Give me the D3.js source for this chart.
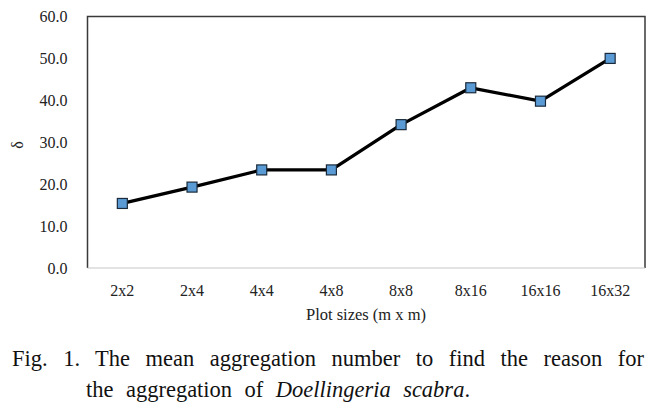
<!DOCTYPE html>
<html>
<head>
<meta charset="utf-8">
<script src="https://cdn.jsdelivr.net/npm/d3@7"></script>
<style>
  body { margin: 0; background: #fff; }
  svg text { font-family: "Liberation Serif", "Times New Roman", serif; fill: #222; }
  svg text.caption { fill: #111; }
</style>
</head>
<body>
<div id="chart"></div>
<script>
// Plot sizes and mean aggregation number
const plotSizes = ["2x2", "2x4", "4x4", "4x8", "8x8", "8x16", "16x16", "16x32"];
const deltaValues = [15.4, 19.3, 23.4, 23.4, 34.2, 43.0, 39.8, 50.0];
const yTicks = [0, 10, 20, 30, 40, 50, 60];

const W = 665, H = 408;
const margin = { left: 87.5, right: 20, top: 16.5, bottom: 140 };
const width = 645 - margin.left;
const height = 268 - margin.top;

const svg = d3.select("#chart").append("svg")
    .attr("width", W)
    .attr("height", H);

const g = svg.append("g")
    .attr("transform", `translate(${margin.left},${margin.top})`);

const x = d3.scaleBand()
    .domain(plotSizes)
    .range([0, width]);

const y = d3.scaleLinear()
    .domain([0, 60])
    .range([height, 0]);

// frame (left, top, right)
g.append("path")
    .attr("d", `M0,${height}V0H${width}V${height}`)
    .attr("fill", "none")
    .attr("stroke", "#3a3a3a")
    .attr("stroke-width", 1.5);

// x axis line
g.append("line")
    .attr("x1", 0).attr("x2", width)
    .attr("y1", height).attr("y2", height)
    .attr("stroke", "#c8c8c8")
    .attr("stroke-width", 1.2);

// y tick labels
g.selectAll(".ytick")
    .data(yTicks)
    .enter().append("text")
    .attr("class", "ytick")
    .attr("x", -20)
    .attr("y", d => y(d) + 5.5)
    .attr("text-anchor", "end")
    .style("font-size", "16px")
    .text(d => d.toFixed(1));

// x tick labels
g.selectAll(".xtick")
    .data(plotSizes)
    .enter().append("text")
    .attr("class", "xtick")
    .attr("x", d => x(d) + x.bandwidth() / 2)
    .attr("y", height + 28)
    .attr("text-anchor", "middle")
    .style("font-size", "16px")
    .text(d => d);

// axis titles
svg.append("text")
    .attr("x", 366)
    .attr("y", 320)
    .attr("text-anchor", "middle")
    .style("font-size", "16.5px")
    .text("Plot sizes (m x m)");

svg.append("text")
    .attr("transform", "translate(23,145) rotate(-90)")
    .attr("text-anchor", "middle")
    .style("font-size", "16px")
    .text("δ");

// line
const line = d3.line()
    .x((d, i) => x(plotSizes[i]) + x.bandwidth() / 2)
    .y(d => y(d));

g.append("path")
    .datum(deltaValues)
    .attr("d", line)
    .attr("fill", "none")
    .attr("stroke", "#000")
    .attr("stroke-width", 3.3)
    .attr("stroke-linejoin", "round");

// markers
const s = 10;
g.selectAll(".marker")
    .data(deltaValues)
    .enter().append("rect")
    .attr("class", "marker")
    .attr("x", (d, i) => x(plotSizes[i]) + x.bandwidth() / 2 - s / 2)
    .attr("y", d => y(d) - s / 2)
    .attr("width", s)
    .attr("height", s)
    .attr("fill", "#5b9bd5")
    .attr("stroke", "#1a2a3a")
    .attr("stroke-width", 1.2);

// caption, justified by spreading word spacing
function justify(t, target, spaces) {
    const natural = t.node().getComputedTextLength();
    t.attr("word-spacing", Math.max(0, (target - natural) / spaces) + "px");
}

const cap1 = svg.append("text")
    .attr("class", "caption")
    .attr("x", 12)
    .attr("y", 366)
    .style("font-size", "22.5px")
    .text("Fig. 1. The mean aggregation number to find the reason for");
justify(cap1, 632, 10);

const cap2 = svg.append("text")
    .attr("class", "caption")
    .attr("x", 86)
    .attr("y", 397)
    .style("font-size", "22.5px");
cap2.append("tspan").text("the aggregation of ");
cap2.append("tspan").style("font-style", "italic").text("Doellingeria scabra");
cap2.append("tspan").text(".");
justify(cap2, 384, 4);
</script>
</body>
</html>
